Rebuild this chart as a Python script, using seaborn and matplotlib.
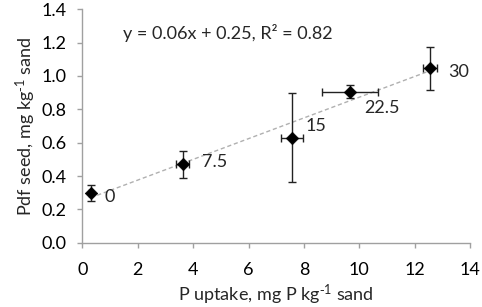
import numpy as np
import pandas as pd
import seaborn as sns
import matplotlib.pyplot as plt

# data
p_rate = ['0', '7.5', '15', '22.5', '30']
p_uptake = [0.30, 3.62, 7.58, 9.66, 12.55]
p_uptake_err = [0.05, 0.23, 0.39, 1.02, 0.26]
pdf_seed = [0.30, 0.47, 0.63, 0.906, 1.046]
pdf_seed_err = [0.047, 0.08, 0.265, 0.041, 0.13]
label_offsets = [(10, -3), (13.7, 1.7), (9.9, 8.4), (10, -12), (13, -2.9)]
fit_text = 'y = 0.06x + 0.25, R² = 0.82'

df = pd.DataFrame({'uptake': p_uptake, 'pdf': pdf_seed, 'rate': p_rate})

sns.set_style('white')
plt.rcParams['font.family'] = ['Lato', 'DejaVu Sans']
plt.rcParams['mathtext.default'] = 'regular'
plt.rcParams['xtick.labelsize'] = 13
plt.rcParams['ytick.labelsize'] = 13
plt.rcParams['axes.labelsize'] = 13

fig = plt.figure(figsize=(4.82, 3.07), dpi=100)
ax = fig.add_axes([0.171, 0.209, 0.804, 0.761])

# trend line (linear fit)
sns.regplot(data=df, x='uptake', y='pdf', ax=ax, scatter=False, ci=None, truncate=True,
            line_kws={'color': '#b0b0b0', 'lw': 1.0, 'ls': (0, (3, 2))})

ax.errorbar(df.uptake, df.pdf, xerr=p_uptake_err, yerr=pdf_seed_err, fmt='none',
            ecolor='#222222', elinewidth=1.0, capsize=3, capthick=1.0, zorder=3)
sns.scatterplot(data=df, x='uptake', y='pdf', ax=ax, marker='D', color='black',
                s=40, edgecolor='black', zorder=4)

for xv, yv, lab, off in zip(p_uptake, pdf_seed, p_rate, label_offsets):
    ax.annotate(lab, (xv, yv), xytext=off, textcoords='offset points',
                fontsize=13, va='center', ha='left')

ax.text(1.47, 1.256, fit_text, fontsize=13, va='center', ha='left')

ax.set_xlim(0, 14)
ax.set_ylim(0, 1.4)
ax.set_xticks(np.arange(0, 15, 2))
ax.set_yticks(np.arange(0, 1.41, 0.2))
ax.yaxis.set_major_formatter(plt.FormatStrFormatter('%.1f'))
ax.set_xlabel(r'P uptake, mg P kg$^{\text{-}1}$ sand', labelpad=4)
ax.set_ylabel(r'Pdf seed, mg kg$^{\text{-}1}$ sand', labelpad=2)

for s in ['top', 'right']:
    ax.spines[s].set_visible(False)
for s in ['left', 'bottom']:
    ax.spines[s].set_color('#a0a0a0')
    ax.spines[s].set_linewidth(1.0)
ax.tick_params(axis='both', direction='out', length=3.6, width=1.0, color='#a0a0a0',
               labelcolor='black', left=True, bottom=True)
ax.tick_params(axis='x', pad=10)
ax.tick_params(axis='y', pad=8)

fig.savefig('out.png', dpi=100)
